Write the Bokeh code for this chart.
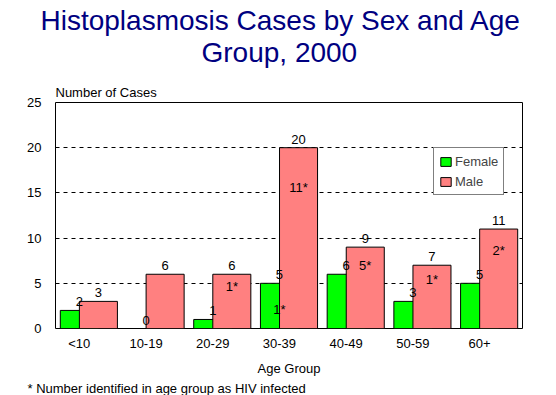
from bokeh.plotting import figure
from bokeh.models import ColumnDataSource, Title, Legend, LegendItem, FixedTicker
from bokeh.core.properties import value
from bokeh.embed import file_html
from bokeh.resources import INLINE

# ---- data ----
age_groups = ["<10", "10-19", "20-29", "30-39", "40-49", "50-59", "60+"]
female = [2, 0, 1, 5, 6, 3, 5]
male = [3, 6, 6, 20, 9, 7, 11]
female_hiv = ["", "", "", "1*", "", "", ""]
male_hiv = ["", "", "1*", "11*", "5*", "1*", "2*"]

FONT = "Liberation Sans"
off = 0.143
bw = 0.57

idx = list(range(len(age_groups)))
fx = [i + 0.5 - off for i in idx]
mx = [i + 0.5 + off for i in idx]

src = ColumnDataSource(dict(
    fx=fx, mx=mx, female=female, male=male,
    flab=[str(v) for v in female], mlab=[str(v) for v in male],
    fhiv=female_hiv, mhiv=male_hiv,
    fhy=[v * 0.42 for v in female], mhy=[v * 0.78 for v in male],
))

p = figure(width=540, height=395, x_range=(0, 7), y_range=(0, 25),
           output_backend="svg", toolbar_location=None,
           min_border_left=55, min_border_right=18,
           min_border_top=102, min_border_bottom=0)
p.title = None
p.outline_line_color = "black"
p.outline_line_width = 1
p.outline_line_alpha = 1
p.background_fill_color = "white"
p.border_fill_color = "white"

p.xgrid.visible = False
p.ygrid.ticker = FixedTicker(ticks=[5, 10, 15, 20])
p.ygrid.grid_line_color = "black"
p.ygrid.grid_line_dash = "4 4"
p.ygrid.grid_line_width = 1

fb = p.vbar(x="fx", top="female", width=bw, source=src,
            fill_color="#00ff00", line_color="black", line_width=1)
mb = p.vbar(x="mx", top="male", width=bw, source=src,
            fill_color="#ff8080", line_color="black", line_width=1)

common = dict(text_font=value(FONT), text_font_size="13px", text_color="black",
              text_align="center", source=src)
p.text(x="fx", y="female", text="flab", text_baseline="bottom", y_offset=-4, **common)
p.text(x="mx", y="male", text="mlab", text_baseline="bottom", y_offset=-4, **common)
p.text(x="fx", y="fhy", text="fhiv", text_baseline="middle", **common)
p.text(x="mx", y="mhy", text="mhiv", text_baseline="middle", **common)

# axes
p.yaxis.ticker = FixedTicker(ticks=[0, 5, 10, 15, 20, 25])
p.yaxis.major_tick_line_color = None
p.yaxis.minor_tick_line_color = None
p.yaxis.axis_line_color = None
p.yaxis.major_label_text_font = FONT
p.yaxis.major_label_text_font_size = "13px"
p.yaxis.major_label_text_color = "black"
p.yaxis.major_label_standoff = 8

p.xaxis.ticker = FixedTicker(ticks=fx)
p.xaxis.major_label_overrides = {x: lab for x, lab in zip(fx, age_groups)}
p.xaxis.major_tick_line_color = None
p.xaxis.minor_tick_line_color = None
p.xaxis.axis_line_color = None
p.xaxis.major_label_text_font = FONT
p.xaxis.major_label_text_font_size = "13px"
p.xaxis.major_label_text_color = "black"
p.xaxis.major_label_standoff = 1
p.xaxis.axis_label = "Age Group"
p.xaxis.axis_label_text_font = FONT
p.xaxis.axis_label_text_font_size = "13px"
p.xaxis.axis_label_text_font_style = "normal"
p.xaxis.axis_label_text_color = "black"
p.xaxis.axis_label_standoff = 7

# footnote
p.add_layout(Title(text="* Number identified in age group as HIV infected", align="left",
                   offset=-28, standoff=0, text_font=FONT, text_font_size="13px",
                   text_font_style="normal", text_color="black"), "below")

# titles above
p.add_layout(Title(text="Number of Cases", align="left", offset=0, standoff=6, text_font=FONT,
                   text_font_size="13px", text_font_style="normal", text_color="black"), "above")
p.add_layout(Title(text="Group, 2000", align="left", offset=146, standoff=23, text_font=FONT,
                   text_font_size="28px", text_font_style="normal", text_color="#000080"), "above")
p.add_layout(Title(text="Histoplasmosis Cases by Sex and Age", align="left", offset=-15,
                   standoff=-24, text_font=FONT,
                   text_font_size="28px", text_font_style="normal", text_color="#000080"), "above")

legend = Legend(items=[LegendItem(label="Female", renderers=[fb]),
                       LegendItem(label="Male", renderers=[mb])],
                location=(378, 133), label_text_font=FONT, label_text_font_size="13px",
                glyph_width=13, glyph_height=11, label_height=16, spacing=4,
                padding=5, margin=0, border_line_color="black", border_line_width=1,
                background_fill_color="white", background_fill_alpha=1,
                label_standoff=3)
p.add_layout(legend, "center")

open("out.html", "w").write(file_html(p, INLINE))
